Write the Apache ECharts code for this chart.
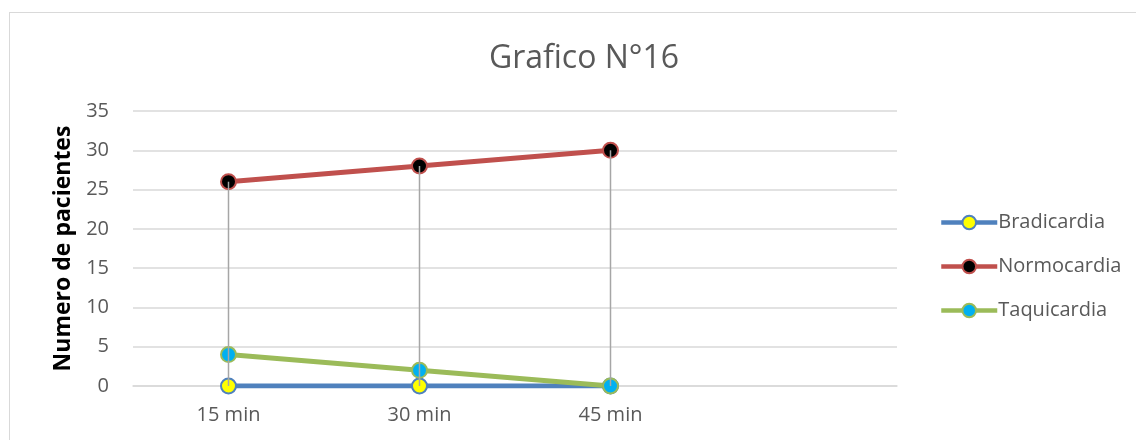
<!DOCTYPE html>
<html>
<head>
<meta charset="utf-8">
<script src="https://cdn.jsdelivr.net/npm/echarts@6/dist/echarts.min.js"></script>
<style>
  html, body { margin: 0; padding: 0; background: #fff; }
  #frame { position: absolute; left: 9px; top: 12px; width: 1140px; height: 440px; border: 1.5px solid #d9d9d9; box-sizing: border-box; }
  #chart { position: absolute; left: 0; top: 0; width: 1136px; height: 440px; }
</style>
</head>
<body>
<div id="frame"></div>
<div id="chart"></div>
<script>
// Time points (a fourth empty slot keeps the plot spacing)
const categories = ['15 min', '30 min', '45 min', ''];
const bradicardia = [0, 0, 0];
const normocardia = [26, 28, 30];
const taquicardia = [4, 2, 0];
const yTicks = { min: 0, max: 35, interval: 5 };

const seriesDefs = [
  { name: 'Bradicardia', data: bradicardia, line: '#4f81bd', fill: '#ffff00' },
  { name: 'Normocardia', data: normocardia, line: '#c0504d', fill: '#000000' },
  { name: 'Taquicardia', data: taquicardia, line: '#9bbb59', fill: '#00b0f0' }
];

// High-low range per time point for the vertical drop lines
const hiLow = bradicardia.map((_, i) => {
  const vals = seriesDefs.map(s => s.data[i]);
  return [i, Math.max(...vals), Math.min(...vals)];
});

const chart = echarts.init(document.getElementById('chart'));
const textColor = '#595959';
const font = '"Open Sans", "Liberation Sans", sans-serif';

chart.setOption({
  animation: false,
  title: {
    text: 'Grafico N°16',
    left: 579, top: 38, textAlign: 'center',
    textStyle: { fontFamily: font, fontSize: 32, fontWeight: 'normal', color: textColor }
  },
  legend: {
    orient: 'vertical',
    left: 934, top: 204,
    itemWidth: 56, itemHeight: 17, itemGap: 17,
    lineStyle: { width: 4.5 },
    textStyle: { fontFamily: font, fontSize: 20, lineHeight: 27, color: textColor, padding: [0, 0, 0, -4] },
    data: seriesDefs.map(s => s.name)
  },
  grid: { left: 133, right: 239, top: 111, bottom: 54 },
  xAxis: {
    type: 'category',
    data: categories,
    boundaryGap: true,
    axisLine: { lineStyle: { color: '#d9d9d9', width: 1.5 } },
    axisTick: { show: false },
    axisLabel: { fontFamily: font, fontSize: 20, color: textColor, margin: 19 }
  },
  yAxis: {
    type: 'value',
    min: yTicks.min, max: yTicks.max, interval: yTicks.interval,
    name: 'Numero de pacientes',
    nameLocation: 'middle',
    nameGap: 57,
    nameTextStyle: { fontFamily: font, fontSize: 23, fontWeight: 'bold', color: '#000' },
    axisLine: { show: false },
    axisTick: { show: false },
    axisLabel: { fontFamily: font, fontSize: 20, color: textColor, margin: 24 },
    splitLine: { lineStyle: { color: '#d9d9d9', width: 1.5 } }
  },
  series: seriesDefs.map(s => ({
    name: s.name,
    type: 'line',
    data: s.data,
    symbol: 'circle',
    symbolSize: 15,
    showAllSymbol: true,
    lineStyle: { color: s.line, width: 5 },
    itemStyle: { color: s.fill, borderColor: s.line, borderWidth: 2 },
    z: 2
  })).concat([{
    type: 'custom',
    name: 'hilow',
    data: hiLow,
    z: 5,
    silent: true,
    renderItem: function (params, api) {
      const top = api.coord([api.value(0), api.value(1)]);
      const bottom = api.coord([api.value(0), api.value(2)]);
      return {
        type: 'line',
        shape: { x1: top[0], y1: top[1], x2: bottom[0], y2: bottom[1] },
        style: { stroke: '#a6a6a6', lineWidth: 1.5 }
      };
    }
  }])
});
</script>
</body>
</html>
